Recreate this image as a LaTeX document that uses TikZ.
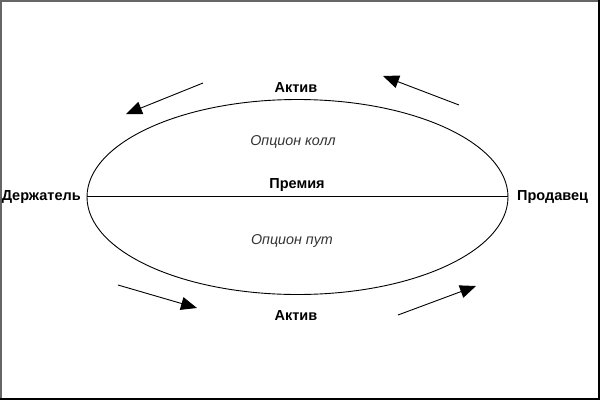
\documentclass[tikz,border=0pt]{standalone}
\usepackage{fontspec}
\setmainfont{Liberation Sans}
\usetikzlibrary{arrows.meta}
\begin{document}
\begin{tikzpicture}[x=1pt,y=-1pt,
  lbl/.style={font=\fontsize{14.5}{16}\selectfont\bfseries, inner sep=0pt},
  itl/.style={font=\fontsize{14.3}{16}\selectfont\itshape, inner sep=0pt, text=black!80},
  flow/.style={line width=0.9pt, -{Triangle[length=16pt,width=13pt]}},
  thin/.style={line width=0.9pt}]
\useasboundingbox (0,0) rectangle (600,400);
\fill[white] (0,0) rectangle (600,400);
% frame
\draw[black!60, line width=1.5pt] (0.75,399) -- (0.75,0.75) -- (599,0.75);
\draw[black, line width=2.5pt] (598.75,0) -- (598.75,398.75) -- (0,398.75);
% ellipse and line
\coordinate (c) at (297.5,197);
\draw[thin] (c) ellipse [x radius=210.5, y radius=97.5];
\coordinate (L) at (87,196);
\coordinate (R) at (508,196);
\draw[thin] (L) -- (R);
% labels
\node[lbl, anchor=east] (hold) at (81,197) {Держатель};
\node[lbl, anchor=west] (sell) at (517,197) {Продавец};
\node[lbl] (atop) at (296,88) {Актив};
\node[itl] (call) at (293,142) {Опцион колл};
\node[lbl] (prem) at (297,185) {Премия};
\node[itl] (put) at (292,241) {Опцион пут};
\node[lbl] (abot) at (296,316) {Актив};
% arrows
\coordinate (a1s) at (203,83);  \coordinate (a1e) at (126,114);
\coordinate (a2s) at (459,105); \coordinate (a2e) at (383,76);
\coordinate (a3s) at (118,285); \coordinate (a3e) at (197,308);
\coordinate (a4s) at (398,315); \coordinate (a4e) at (476,286);
\draw[flow] (a1s) -- (a1e);
\draw[flow] (a2s) -- (a2e);
\draw[flow] (a3s) -- (a3e);
\draw[flow] (a4s) -- (a4e);
\end{tikzpicture}
\end{document}
